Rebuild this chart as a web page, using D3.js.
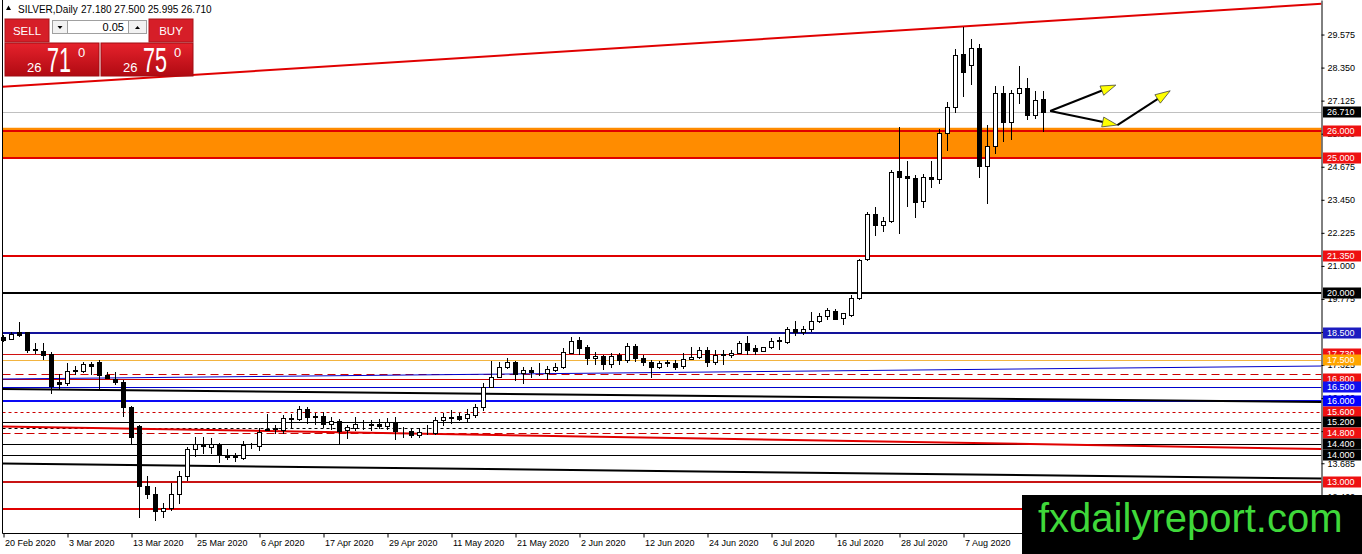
<!DOCTYPE html>
<html><head><meta charset="utf-8">
<script src="https://cdn.jsdelivr.net/npm/d3@7"></script>
<style>
html,body{margin:0;padding:0;background:#fff;overflow:hidden;}
svg{display:block;font-family:"Liberation Sans",Arial,sans-serif;}
</style></head><body>
<svg id="chart" width="1362" height="554"></svg>
<script>
// ---------------- DATA ----------------
const symbolTitle = "SILVER,Daily";
const headerValues = "27.180 27.500 25.995 26.710";
const tickLabels = ["20 Feb 2020","3 Mar 2020","13 Mar 2020","25 Mar 2020","6 Apr 2020","17 Apr 2020",
  "29 Apr 2020","11 May 2020","21 May 2020","2 Jun 2020","12 Jun 2020","24 Jun 2020","6 Jul 2020",
  "16 Jul 2020","28 Jul 2020","7 Aug 2020"];
const tickEvery = 8;

const openP  = [18.38,18.30,18.54,18.54,17.93,17.85,17.72,16.68,16.65,17.11,17.12,17.36,17.43,16.96,16.82,16.69,15.76,15.07,12.84,12.54,
  11.92,12.02,12.55,13.21,14.20,14.39,14.30,14.39,13.99,13.93,13.87,14.37,14.33,14.93,14.96,14.92,15.37,15.31,15.68,15.40,
  15.44,15.14,15.26,14.92,14.98,15.09,15.12,15.14,15.07,15.20,14.94,14.89,14.73,14.84,14.82,15.27,15.38,15.44,15.36,15.48,
  15.76,16.52,16.89,17.26,17.45,17.02,17.14,17.10,17.04,17.14,17.24,17.78,18.25,17.98,17.57,17.66,17.36,17.70,17.51,18.03,
  17.57,17.45,17.26,17.40,17.41,17.29,17.54,17.63,17.88,17.45,17.70,17.70,17.78,18.15,17.94,17.85,17.98,18.22,18.19,18.65,
  18.56,18.65,18.97,19.14,19.34,19.06,19.19,19.80,21.24,22.92,22.52,22.68,24.53,24.34,24.25,23.42,24.31,24.21,25.91,26.88,
  28.85,28.43,29.07,24.70,25.44,27.40,26.34,27.40,27.58,26.59,27.18];
const highP  = [18.45,18.55,18.93,18.56,18.15,18.14,17.80,17.00,17.39,17.29,17.43,17.45,17.51,17.08,17.06,16.77,15.81,15.10,13.21,12.82,
  12.22,12.96,13.41,14.30,14.67,14.65,14.61,14.45,14.20,14.08,14.52,14.45,14.98,15.51,15.10,15.47,15.51,15.81,15.76,15.56,
  15.60,15.39,15.31,15.10,15.39,15.29,15.29,15.31,15.35,15.39,15.02,14.98,14.98,15.10,15.39,15.56,15.66,15.53,15.68,15.88,
  16.65,17.49,17.45,17.57,17.49,17.26,17.24,17.39,17.29,17.39,17.94,18.35,18.35,18.07,17.82,17.70,17.79,17.79,18.15,18.11,
  17.70,17.51,17.48,17.51,17.51,17.79,17.99,17.99,17.98,17.88,17.90,17.88,18.20,18.40,18.07,18.01,18.32,18.35,18.75,18.97,
  18.78,19.30,19.24,19.45,19.40,19.27,19.92,21.25,23.00,23.19,22.82,24.56,26.14,24.89,24.37,24.40,24.89,26.09,27.09,29.03,
  29.84,29.41,29.23,26.22,27.67,27.67,27.52,28.41,27.95,27.49,27.50];
const lowP   = [18.20,18.28,18.40,17.80,17.76,17.54,16.30,16.46,16.59,16.99,17.08,16.99,16.46,16.84,16.62,15.45,14.40,11.70,12.39,11.58,
  11.70,11.95,12.22,13.06,13.95,14.08,14.08,13.74,13.83,13.77,13.83,14.24,14.18,14.90,14.80,14.82,15.02,15.29,15.19,15.14,
  15.04,14.95,14.45,14.61,14.92,14.95,14.92,15.00,14.96,14.57,14.67,14.65,14.65,14.78,14.77,15.10,15.17,15.29,15.23,15.39,
  15.66,16.50,16.87,17.20,16.77,16.65,16.87,16.96,16.80,17.11,17.20,17.76,17.73,17.36,17.36,17.17,17.24,17.36,17.45,17.48,
  17.33,16.87,17.20,17.30,17.17,17.20,17.54,17.57,17.29,17.36,17.36,17.63,17.76,17.73,17.73,17.84,17.94,17.93,18.15,18.44,
  18.46,18.60,18.93,19.03,19.02,18.85,19.14,19.76,21.21,22.14,22.30,22.64,22.21,23.22,22.82,23.19,23.94,24.06,25.30,26.72,
  27.30,27.74,24.31,23.34,25.19,25.64,25.69,27.03,26.43,26.47,25.995];
const closeP = [18.25,18.48,18.43,17.88,17.90,17.70,16.56,16.62,17.12,17.13,17.36,17.29,16.96,16.86,16.70,15.76,14.65,12.84,12.54,11.92,
  12.02,12.55,13.21,14.20,14.39,14.33,14.40,13.99,13.91,13.94,14.36,14.36,14.85,14.97,14.98,15.35,15.33,15.68,15.39,15.43,
  15.14,15.26,14.89,15.04,15.14,15.11,15.14,15.08,15.20,14.89,14.95,14.73,14.85,14.86,15.29,15.39,15.40,15.32,15.51,15.78,
  16.52,16.89,17.26,17.45,16.99,17.14,17.07,17.11,17.17,17.26,17.82,18.23,17.95,17.57,17.66,17.36,17.66,17.51,18.03,17.57,
  17.45,17.26,17.41,17.43,17.26,17.54,17.63,17.88,17.45,17.70,17.72,17.79,18.15,17.88,17.85,17.98,18.23,18.24,18.65,18.56,
  18.65,18.97,19.14,19.37,19.04,19.25,19.80,21.21,22.92,22.52,22.66,24.49,24.31,24.25,23.38,24.28,24.21,25.91,26.88,28.82,
  28.20,29.07,24.70,25.44,27.40,26.34,27.40,27.58,26.59,27.15,26.71];

const priceTicks = [29.575,28.350,27.125,25.900,24.675,23.450,22.225,21.000,19.775,18.550,17.325,16.100,14.875,13.685,12.460];

const levelValues = [26.0,25.0,21.35,20.0,18.5,17.73,17.5,17.0,16.8,16.5,16.0,15.6,15.2,15.0,14.8,14.4,14.0,13.0,12.0];
const levelLabelled = [1,1,1,1,1,1,1,0,1,1,1,1,1,0,1,1,1,1,1];
const zoneTop = 26.12, zoneBottom = 25.0;
const lastPrice = 26.71;

const trendStartIdx   = [0, 0, 0, 0, 0];
const trendStartPrice = [27.638, 16.808, 16.437, 15.046, 13.675];
const trendEndIdx     = [160, 160, 160, 160, 160];
const trendEndPrice   = [30.622, 17.275, 15.970, 14.236, 13.135];

const arrowFromIdx = [130.9, 130.9, 139.3], arrowFromPrice = [26.74, 26.74, 26.22];
const arrowToIdx   = [139.1, 139.3, 145.9], arrowToPrice   = [27.70, 26.22, 27.49];

const priceHandle = "26", sellPips = "71", buyPips = "75", pipFrac = "0", lotSize = "0.05";
const watermark = "fxdailyreport.com";

// ---------------- STYLES ----------------
const RED = "#e00000";
const levelStyle = [
  {c:RED,w:2},{c:RED,w:2},{c:RED,w:2},{c:"#000",w:2},{c:"#12129a",w:2,bg:"#1c1cc0"},
  {c:"#d01010",w:1},{c:"#f2b440",w:1,bg:"#ffa500"},{c:"#cc0000",w:1,d:"8,5"},{c:"#cc0000",w:1},
  {c:"#0000cc",w:1,bg:"#1010ee"},{c:"#0a0af5",w:2,bg:"#0000ff"},{c:"#cc0000",w:1,d:"3,3"},
  {c:"#000",w:1},{c:"#000",w:1,d:"3,3"},{c:"#cc0000",w:1,d:"8,4"},{c:"#000",w:1},{c:"#000",w:1},
  {c:"#c81414",w:2},{c:RED,w:2}
];
const trendStyle = [{c:RED,w:2},{c:"#0000cc",w:1},{c:"#000",w:2},{c:RED,w:2},{c:"#000",w:2}];

// ---------------- SCALES ----------------
const svg = d3.select("#chart");
const L = 2.5, R = 1321.5, B = 533.5;
const x = d3.scaleLinear().domain([0,160]).range([3,1283]);
const y = d3.scaleLinear().domain([11.10,30.855]).range([533,0]);
const crisp = (v,w) => (w % 2 === 1) ? Math.round(v)+0.5 : Math.round(v);

const defs = svg.append("defs");
defs.append("clipPath").attr("id","plot").append("rect")
  .attr("x",L).attr("y",0).attr("width",R-L).attr("height",B);
const grad = defs.append("linearGradient").attr("id","redg").attr("x1",0).attr("y1",0).attr("x2",0).attr("y2",1);
grad.append("stop").attr("offset","0%").attr("stop-color","#e6222c");
grad.append("stop").attr("offset","100%").attr("stop-color","#b00a12");

const plot = svg.append("g").attr("clip-path","url(#plot)");

// zone
plot.append("rect").attr("x",L).attr("width",R-L)
  .attr("y",y(zoneTop)).attr("height",y(zoneBottom)-y(zoneTop)).attr("fill","#ff8c00");

// current price line
plot.append("line").attr("x1",L).attr("x2",R)
  .attr("y1",crisp(y(lastPrice),1)).attr("y2",crisp(y(lastPrice),1))
  .attr("stroke","#c0c0c0").attr("stroke-width",1);

// levels
plot.selectAll(".lvl").data(levelValues).join("line")
  .attr("x1",L).attr("x2",R)
  .attr("y1",(d,i)=>crisp(y(d),levelStyle[i].w)).attr("y2",(d,i)=>crisp(y(d),levelStyle[i].w))
  .attr("stroke",(d,i)=>levelStyle[i].c).attr("stroke-width",(d,i)=>levelStyle[i].w)
  .attr("stroke-dasharray",(d,i)=>levelStyle[i].d||null);

// trend lines (extended to plot edges)
trendStartIdx.forEach((s,i)=>{
  const slope = (trendEndPrice[i]-trendStartPrice[i])/(trendEndIdx[i]-s);
  const i0 = x.invert(L), i1 = x.invert(R);
  const p0 = trendStartPrice[i] + slope*(i0-s), p1 = trendStartPrice[i] + slope*(i1-s);
  plot.append("line").attr("x1",x(i0)).attr("x2",x(i1)).attr("y1",y(p0)).attr("y2",y(p1))
    .attr("stroke",trendStyle[i].c).attr("stroke-width",trendStyle[i].w);
});

// candles
const candles = d3.range(openP.length);
const cg = svg.append("g").attr("shape-rendering","crispEdges");
cg.selectAll(".wick").data(candles).join("line")
  .attr("x1",i=>Math.round(x(i))+0.5).attr("x2",i=>Math.round(x(i))+0.5)
  .attr("y1",i=>Math.round(y(highP[i]))).attr("y2",i=>Math.round(y(lowP[i]))+1)
  .attr("stroke","#000").attr("stroke-width",1);
cg.selectAll(".body").data(candles).join("rect")
  .attr("x",i=>Math.round(x(i))-1.5).attr("width",4)
  .attr("y",i=>Math.round(y(Math.max(openP[i],closeP[i])))+0.5)
  .attr("height",i=>Math.max(0, Math.round(y(Math.min(openP[i],closeP[i])))-Math.round(y(Math.max(openP[i],closeP[i])))))
  .attr("fill",i=>closeP[i]>=openP[i]?"#fff":"#000")
  .attr("stroke","#000").attr("stroke-width",1);

// arrows
const ag = svg.append("g");
arrowFromIdx.forEach((s,i)=>{
  const x0=x(s), y0=y(arrowFromPrice[i]), x1=x(arrowToIdx[i]), y1=y(arrowToPrice[i]);
  const len=Math.hypot(x1-x0,y1-y0), ux=(x1-x0)/len, uy=(y1-y0)/len;
  const bx=x1-ux*15, by=y1-uy*15;
  ag.append("line").attr("x1",x0).attr("y1",y0).attr("x2",bx+ux*3).attr("y2",by+uy*3)
    .attr("stroke","#000").attr("stroke-width",2);
  ag.append("path").attr("d",`M${x1},${y1}L${bx-uy*5},${by+ux*5}L${bx+uy*5},${by-ux*5}Z`)
    .attr("fill","#ffff00").attr("stroke","#444").attr("stroke-width",0.8);
});

// axes
const yAxis = svg.append("g").attr("transform",`translate(${R},0)`)
  .call(d3.axisRight(y).tickValues(priceTicks).tickSize(3).tickSizeOuter(0).tickFormat(d3.format(".3f")));
yAxis.select(".domain").attr("stroke","#000");
yAxis.selectAll("text").attr("font-size",9).attr("font-family","Liberation Sans, Arial").attr("fill","#000");
yAxis.selectAll("line").attr("stroke","#000");

svg.append("line").attr("x1",L).attr("x2",L).attr("y1",0).attr("y2",B).attr("stroke","#000");
svg.append("line").attr("x1",L).attr("x2",R).attr("y1",B).attr("y2",B).attr("stroke","#000");

const xTicks = tickLabels.map((d,i)=>i*tickEvery);
const xAxis = svg.append("g").attr("transform",`translate(0.5,${B})`)
  .call(d3.axisBottom(x).tickValues(xTicks).tickSize(4).tickSizeOuter(0).tickFormat((d,i)=>tickLabels[i]));
xAxis.select(".domain").remove();
xAxis.selectAll("line").attr("stroke","#000");
xAxis.selectAll("text").attr("text-anchor","start").attr("x",1).attr("dy",0).attr("y",12.5)
  .attr("font-size",9).attr("font-family","Liberation Sans, Arial").attr("fill","#000");

// right-side price labels
const lbl = svg.append("g");
const labelItems = levelValues.map((v,i)=>({v, bg: levelStyle[i].bg || (levelStyle[i].c==="#000"?"#000":"#ee1111"), show: levelLabelled[i]}))
  .filter(d=>d.show);
labelItems.push({v:lastPrice,bg:"#000"});
labelItems.forEach(d=>{
  const cy = Math.round(y(d.v));
  lbl.append("rect").attr("x",1323).attr("y",cy-5.5).attr("width",38).attr("height",11).attr("fill",d.bg);
  lbl.append("text").attr("x",1327).attr("y",cy+3.3).attr("font-size",9).attr("fill","#fff").text(d.v.toFixed(3));
});

// header
svg.append("path").attr("d","M6,10L8.5,5.5L11,10Z").attr("fill","#000");
svg.append("text").attr("x",18).attr("y",13).attr("font-size",10).text(symbolTitle);
svg.append("text").attr("x",81).attr("y",13).attr("font-size",10).text(headerValues);

// trade panel
const tp = svg.append("g");
tp.append("rect").attr("x",5).attr("y",19).attr("width",44).attr("height",23).attr("fill","#d61e28").attr("stroke","#a8141a");
tp.append("rect").attr("x",149).attr("y",19).attr("width",44).attr("height",23).attr("fill","#d61e28").attr("stroke","#a8141a");
tp.append("text").attr("x",27).attr("y",35).attr("text-anchor","middle").attr("font-size",11.5).attr("fill","#fff").text("SELL");
tp.append("text").attr("x",171).attr("y",35).attr("text-anchor","middle").attr("font-size",11.5).attr("fill","#fff").text("BUY");
tp.append("rect").attr("x",52.5).attr("y",20.5).attr("width",15).attr("height",13).attr("fill","#f2f2f2").attr("stroke","#a0a0a0");
tp.append("rect").attr("x",67.5).attr("y",20.5).attr("width",61).attr("height",13).attr("fill","#fff").attr("stroke","#a0a0a0");
tp.append("rect").attr("x",128.5).attr("y",20.5).attr("width",18).attr("height",13).attr("fill","#f2f2f2").attr("stroke","#a0a0a0");
tp.append("path").attr("d","M57.5,26L62.5,26L60,29Z").attr("fill","#000");
tp.append("path").attr("d","M135,29L140,29L137.5,26Z").attr("fill","#000");
tp.append("text").attr("x",124).attr("y",31).attr("text-anchor","end").attr("font-size",11).attr("fill","#000").text(lotSize);
tp.append("rect").attr("x",5).attr("y",43).attr("width",94).attr("height",33).attr("fill","url(#redg)").attr("stroke","#a00c12");
tp.append("rect").attr("x",101).attr("y",43).attr("width",92).attr("height",33).attr("fill","url(#redg)").attr("stroke","#a00c12");
[[27,sellPips],[123,buyPips]].forEach(([bx,pips])=>{
  tp.append("text").attr("x",bx).attr("y",72).attr("font-size",13).attr("fill","#fff").text(priceHandle);
  tp.append("text").attr("transform",`translate(${bx+20},72) scale(0.6,1)`).attr("font-size",36).attr("fill","#fff").text(pips);
  tp.append("text").attr("x",bx+51).attr("y",57).attr("font-size",13).attr("fill","#fff").text(pipFrac);
});

// watermark
svg.append("rect").attr("x",1022).attr("y",495).attr("width",340).attr("height",59).attr("fill","#000");
svg.append("text").attr("x",1038).attr("y",532).attr("font-size",40).attr("fill","#3fd83a").text(watermark);
</script>
</body></html>
